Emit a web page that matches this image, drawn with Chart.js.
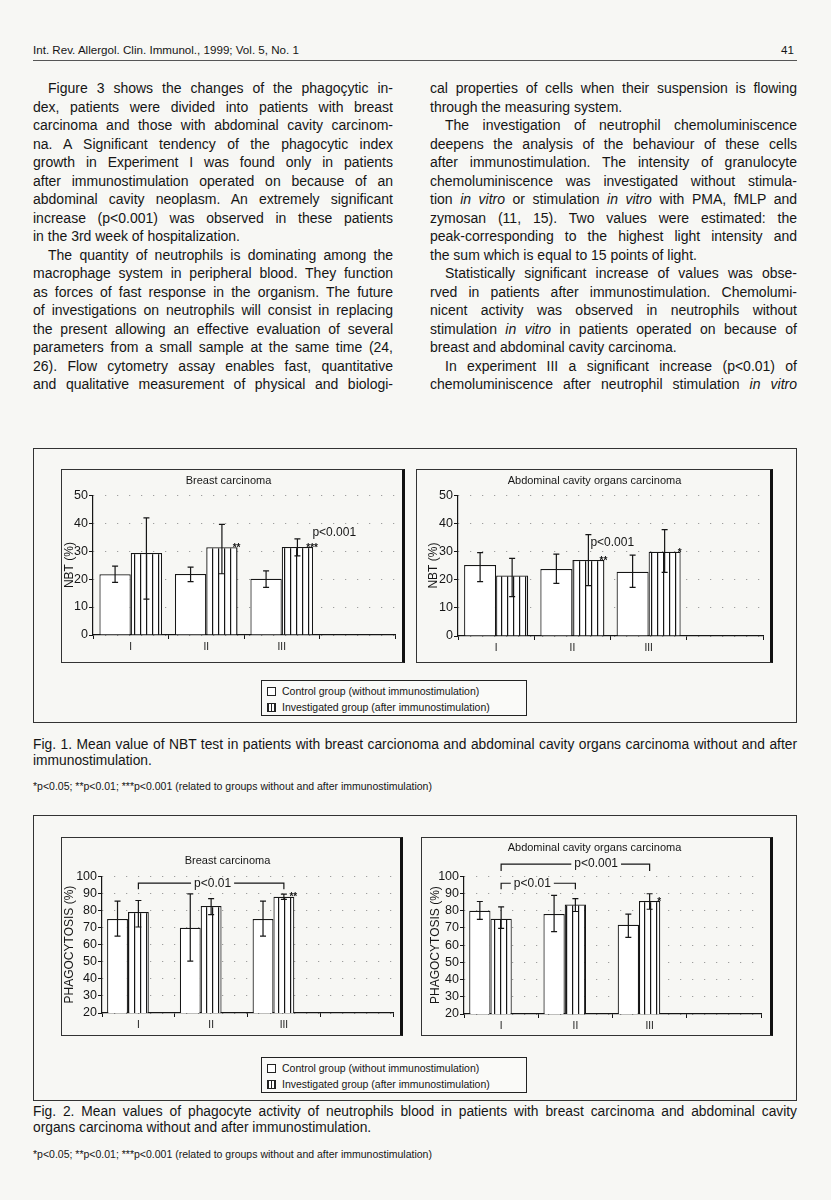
<!DOCTYPE html>
<html>
<head>
<meta charset="utf-8">
<title>Int. Rev. Allergol. Clin. Immunol. 1999 - p. 41</title>
<script src="https://cdn.jsdelivr.net/npm/chart.js@4.4.0/dist/chart.umd.min.js"></script>
<style>
  body { margin: 0; background: #f7f7f4; }
  #page { position: relative; width: 831px; height: 1200px; overflow: hidden;
          font-family: "Liberation Sans", Arial, sans-serif; color: #151515; }
  .abs { position: absolute; white-space: nowrap; }
  .ln { position: absolute; white-space: nowrap; font-size: 14px; line-height: 16px;
        text-align: justify; text-align-last: justify; }
  .ln.end { text-align-last: left; }
  .ln.cp { font-size: 13.8px; }
  .frame { position: absolute; border: 1px solid #333; box-sizing: border-box; }
  .panel { position: absolute; box-sizing: border-box; border: 1px solid #333; border-right: 3px solid #111; }
  .legend { position: absolute; box-sizing: border-box; border: 1px solid #222; font-size: 10.5px;
            line-height: 16px; padding: 2px 0 0 5px; background: #fafaf8; }
  .sw { display: inline-block; width: 7px; height: 7px; border: 1px solid #222; margin-right: 6px;
        vertical-align: -1px; background: #fff; }
  .sw.hatch { background: repeating-linear-gradient(90deg, #222 0 1px, #fff 1px 3px); }
  .cap { position: absolute; white-space: nowrap; font-size: 13.8px; line-height: 16px; }
  .note { position: absolute; white-space: nowrap; font-size: 10.5px; }
</style>
</head>
<body>
<div id="page">
  <div class="abs" style="left:33px;top:43px;font-size:11.6px;">Int. Rev. Allergol. Clin. Immunol., 1999; Vol. 5, No. 1</div>
  <div class="abs" style="left:781px;top:43px;font-size:11.6px;">41</div>
  <div class="abs" style="left:33px;top:60px;width:764px;height:1px;background:#555;"></div>

  <!-- left column -->
  <div class="ln" style="left:48px;top:80px;width:345px;">Figure 3 shows the changes of the phagoçytic in-</div>
  <div class="ln" style="left:33px;top:98.5px;width:360px;">dex, patients were divided into patients with breast</div>
  <div class="ln" style="left:33px;top:117px;width:360px;">carcinoma and those with abdominal cavity carcinom-</div>
  <div class="ln" style="left:33px;top:135.5px;width:360px;">na. A Significant tendency of the phagocytic index</div>
  <div class="ln" style="left:33px;top:154px;width:360px;">growth in Experiment I was found only in patients</div>
  <div class="ln" style="left:33px;top:172.5px;width:360px;">after immunostimulation operated on because of an</div>
  <div class="ln" style="left:33px;top:191px;width:360px;">abdominal cavity neoplasm. An extremely significant</div>
  <div class="ln" style="left:33px;top:209.5px;width:360px;">increase (p&lt;0.001) was observed in these patients</div>
  <div class="ln end" style="left:33px;top:228px;width:360px;">in the 3rd week of hospitalization.</div>
  <div class="ln" style="left:48px;top:246.5px;width:345px;">The quantity of neutrophils is dominating among the</div>
  <div class="ln" style="left:33px;top:265px;width:360px;">macrophage system in peripheral blood. They function</div>
  <div class="ln" style="left:33px;top:283.5px;width:360px;">as forces of fast response in the organism. The future</div>
  <div class="ln" style="left:33px;top:302px;width:360px;">of investigations on neutrophils will consist in replacing</div>
  <div class="ln" style="left:33px;top:320.5px;width:360px;">the present allowing an effective evaluation of several</div>
  <div class="ln" style="left:33px;top:339px;width:360px;">parameters from a small sample at the same time (24,</div>
  <div class="ln" style="left:33px;top:357.5px;width:360px;">26). Flow cytometry assay enables fast, quantitative</div>
  <div class="ln" style="left:33px;top:376px;width:360px;">and qualitative measurement of physical and biologi-</div>

  <!-- right column -->
  <div class="ln" style="left:430px;top:80px;width:367px;">cal properties of cells when their suspension is flowing</div>
  <div class="ln end" style="left:430px;top:98.5px;width:367px;">through the measuring system.</div>
  <div class="ln" style="left:445px;top:117px;width:352px;">The investigation of neutrophil chemoluminiscence</div>
  <div class="ln" style="left:430px;top:135.5px;width:367px;">deepens the analysis of the behaviour of these cells</div>
  <div class="ln" style="left:430px;top:154px;width:367px;">after immunostimulation. The intensity of granulocyte</div>
  <div class="ln" style="left:430px;top:172.5px;width:367px;">chemoluminiscence was investigated without stimula-</div>
  <div class="ln" style="left:430px;top:191px;width:367px;">tion <i>in vitro</i> or stimulation <i>in vitro</i> with PMA, fMLP and</div>
  <div class="ln" style="left:430px;top:209.5px;width:367px;">zymosan (11, 15). Two values were estimated: the</div>
  <div class="ln" style="left:430px;top:228px;width:367px;">peak-corresponding to the highest light intensity and</div>
  <div class="ln end" style="left:430px;top:246.5px;width:367px;">the sum which is equal to 15 points of light.</div>
  <div class="ln" style="left:445px;top:265px;width:352px;">Statistically significant increase of values was obse-</div>
  <div class="ln" style="left:430px;top:283.5px;width:367px;">rved in patients after immunostimulation. Chemolumi-</div>
  <div class="ln" style="left:430px;top:302px;width:367px;">nicent activity was observed in neutrophils without</div>
  <div class="ln" style="left:430px;top:320.5px;width:367px;">stimulation <i>in vitro</i> in patients operated on because of</div>
  <div class="ln end" style="left:430px;top:339px;width:367px;">breast and abdominal cavity carcinoma.</div>
  <div class="ln" style="left:445px;top:357.5px;width:352px;">In experiment III a significant increase (p&lt;0.01) of</div>
  <div class="ln" style="left:430px;top:376px;width:367px;">chemoluminiscence after neutrophil stimulation <i>in vitro</i></div>

  <!-- Fig. 1 -->
  <div class="frame" style="left:33px;top:448px;width:764px;height:275px;"></div>
  <div class="panel" style="left:61px;top:469px;width:344px;height:194px;"><canvas id="nbtBreast"></canvas></div>
  <div class="panel" style="left:416px;top:469px;width:357px;height:194px;"><canvas id="nbtAbd"></canvas></div>
  <div class="legend" style="left:261px;top:680px;width:266px;height:36px;">
    <div><span class="sw"></span>Control group (without immunostimulation)</div>
    <div><span class="sw hatch"></span>Investigated group (after immunostimulation)</div>
  </div>
  <div class="ln cp" style="left:33px;top:737px;width:764px;">Fig. 1. Mean value of NBT test in patients with breast carcionoma and abdominal cavity organs carcinoma without and after</div>
  <div class="cap" style="left:33px;top:753px;">immunostimulation.</div>
  <div class="note" style="left:33px;top:780px;">*p&lt;0.05; **p&lt;0.01; ***p&lt;0.001 (related to groups without and after immunostimulation)</div>

  <!-- Fig. 2 -->
  <div class="frame" style="left:33px;top:815px;width:764px;height:286px;"></div>
  <div class="panel" style="left:61px;top:837px;width:342px;height:199px;"><canvas id="phagoBreast"></canvas></div>
  <div class="panel" style="left:421px;top:837px;width:352px;height:199px;"><canvas id="phagoAbd"></canvas></div>
  <div class="legend" style="left:261px;top:1057px;width:266px;height:36px;">
    <div><span class="sw"></span>Control group (without immunostimulation)</div>
    <div><span class="sw hatch"></span>Investigated group (after immunostimulation)</div>
  </div>
  <div class="ln cp" style="left:33px;top:1104px;width:764px;">Fig. 2. Mean values of phagocyte activity of neutrophils blood in patients with breast carcinoma and abdominal cavity</div>
  <div class="cap" style="left:33px;top:1120px;">organs carcinoma without and after immunostimulation.</div>
  <div class="note" style="left:33px;top:1148px;">*p&lt;0.05; **p&lt;0.01; ***p&lt;0.001 (related to groups without and after immunostimulation)</div>
</div>

<script>
// groups (weeks of hospitalization), last slot is empty on the axis
const groups = ['I', 'II', 'III', ''];

// Fig. 1 - NBT (%)
const nbtBreastControl = [21.7, 21.8, 20.1];
const nbtBreastControlLow = [18.8, 19.1, 17.0];
const nbtBreastControlHigh = [24.6, 24.3, 22.9];
const nbtBreastTreated = [29.3, 31.4, 31.5];
const nbtBreastTreatedLow = [12.8, 21.9, 28.3];
const nbtBreastTreatedHigh = [41.9, 39.6, 34.4];
const nbtBreastStars = ['', '**', '***'];

const nbtAbdControl = [25.2, 23.8, 22.8];
const nbtAbdControlLow = [19.3, 18.7, 17.3];
const nbtAbdControlHigh = [29.6, 29.1, 28.7];
const nbtAbdTreated = [21.5, 27.0, 29.9];
const nbtAbdTreatedLow = [14.0, 17.9, 22.6];
const nbtAbdTreatedHigh = [27.6, 36.0, 37.8];
const nbtAbdStars = ['', '**', '*'];

// Fig. 2 - phagocytosis (%)
const phagoBreastControl = [74.9, 69.8, 75.0];
const phagoBreastControlLow = [65.0, 50.3, 65.0];
const phagoBreastControlHigh = [85.4, 89.7, 85.4];
const phagoBreastTreated = [79.0, 82.6, 88.0];
const phagoBreastTreatedLow = [70.3, 77.5, 86.5];
const phagoBreastTreatedHigh = [85.8, 86.9, 89.5];
const phagoBreastStars = ['', '', '**'];

const phagoAbdControl = [79.9, 78.0, 71.8];
const phagoAbdControlLow = [74.9, 67.8, 64.5];
const phagoAbdControlHigh = [85.3, 88.9, 78.0];
const phagoAbdTreated = [75.3, 83.5, 85.6];
const phagoAbdTreatedLow = [69.7, 79.5, 80.8];
const phagoAbdTreatedHigh = [82.2, 87.0, 89.8];
const phagoAbdStars = ['', '', '*'];

const ink = '#161616';
const fontFamily = '"Liberation Sans", Arial, sans-serif';

// shrink a text line a little if it does not fit its column
document.querySelectorAll('.ln').forEach(el => {
  let size = parseFloat(getComputedStyle(el).fontSize);
  while (el.scrollWidth > el.clientWidth + 0.5 && size > 10) {
    size -= 0.2;
    el.style.fontSize = size + 'px';
  }
});

// vertical hatching for the investigated group
function hatchPattern() {
  const c = document.createElement('canvas');
  c.width = 6; c.height = 6;
  const g = c.getContext('2d');
  g.fillStyle = '#fff';
  g.fillRect(0, 0, 6, 6);
  g.fillStyle = ink;
  g.fillRect(0, 0, 1.2, 6);
  return g.createPattern(c, 'repeat');
}

// error bars, stars, p-value notes and brackets
const marksPlugin = {
  id: 'marks',
  afterDatasetsDraw(chart, args, opts) {
    const ctx = chart.ctx;
    const y = chart.scales.y;
    ctx.save();
    ctx.strokeStyle = ink;
    ctx.fillStyle = ink;
    ctx.lineWidth = 1.2;
    chart.data.datasets.forEach((ds, di) => {
      if (!ds.low) return;
      const meta = chart.getDatasetMeta(di);
      meta.data.forEach((bar, i) => {
        if (ds.low[i] == null) return;
        const top = y.getPixelForValue(ds.high[i]);
        const bot = y.getPixelForValue(ds.low[i]);
        ctx.beginPath();
        ctx.moveTo(bar.x, top); ctx.lineTo(bar.x, bot);
        ctx.moveTo(bar.x - 3, top); ctx.lineTo(bar.x + 3, top);
        ctx.moveTo(bar.x - 3, bot); ctx.lineTo(bar.x + 3, bot);
        ctx.stroke();
        if (ds.stars && ds.stars[i]) {
          ctx.font = 'bold 10px ' + fontFamily;
          ctx.textAlign = 'center';
          ctx.textBaseline = 'middle';
          ctx.fillText(ds.stars[i], bar.x + bar.width / 2 - 1, bar.y + 1);
        }
      });
    });
    const treated = chart.getDatasetMeta(1).data;
    ctx.font = '12px ' + fontFamily;
    ctx.textBaseline = 'middle';
    (opts.notes || []).forEach(n => {
      ctx.textAlign = 'left';
      ctx.fillText(n.text, treated[n.index].x + n.dx, y.getPixelForValue(n.value));
    });
    (opts.brackets || []).forEach(b => {
      const x1 = treated[b.from].x, x2 = treated[b.to].x;
      const yl = y.getPixelForValue(b.value);
      const ye = y.getPixelForValue(b.value - b.drop);
      const tw = ctx.measureText(b.text).width;
      const tx = x1 + (x2 - x1) * b.at;
      ctx.beginPath();
      ctx.moveTo(x1, ye); ctx.lineTo(x1, yl); ctx.lineTo(tx - tw / 2 - 3, yl);
      ctx.moveTo(tx + tw / 2 + 3, yl); ctx.lineTo(x2, yl); ctx.lineTo(x2, ye);
      ctx.stroke();
      ctx.textAlign = 'center';
      ctx.fillText(b.text, tx, yl);
    });
    ctx.restore();
  }
};

function makeChart(id, c) {
  const datasets = [
    { label: 'Control group (without immunostimulation)', data: c.control, low: c.controlLow, high: c.controlHigh,
      backgroundColor: '#fff', borderColor: ink, borderWidth: 1.2 },
    { label: 'Investigated group (after immunostimulation)', data: c.treated, low: c.treatedLow, high: c.treatedHigh,
      stars: c.stars, backgroundColor: hatchPattern(), borderColor: ink, borderWidth: 1.2 }
  ];
  // Fig. 2 keeps an empty third slot in every group, as in the original plot
  if (c.spareSlot) datasets.push({ label: '', data: [] });
  return new Chart(document.getElementById(id), {
    type: 'bar',
    data: { labels: groups, datasets },
    options: {
      responsive: true,
      maintainAspectRatio: false,
      animation: false,
      devicePixelRatio: 1,
      layout: { padding: { left: c.padLeft, right: c.padRight, top: 0, bottom: 0 } },
      datasets: { bar: { barPercentage: 1, categoryPercentage: c.catPct } },
      plugins: {
        legend: { display: false },
        tooltip: { enabled: false },
        title: { display: true, text: c.title, color: ink,
                 font: { family: fontFamily, size: 11, weight: 'normal' }, padding: c.titlePad },
        marks: { notes: c.notes, brackets: c.brackets }
      },
      scales: {
        x: {
          grid: { offset: true, drawOnChartArea: false, color: ink, tickLength: 4 },
          border: { color: ink, width: 1.2 },
          ticks: { color: ink, padding: 2, font: { family: fontFamily, size: 10 } },
          afterFit: s => { s.height = c.xHeight; }
        },
        y: {
          min: c.yMin, max: c.yMax,
          ticks: { stepSize: 10, autoSkip: false, color: ink, padding: 1,
                   font: { family: fontFamily, size: 12.5 } },
          grid: { color: '#8a8a8a', tickColor: ink, tickLength: 4 },
          border: { color: ink, width: 1.2, dash: [1, 11] },
          title: { display: true, text: c.yTitle, color: ink, padding: 0,
                   font: { family: fontFamily, size: 12 } },
          afterFit: s => { s.width = c.yWidth; }
        }
      }
    },
    plugins: [marksPlugin]
  });
}

makeChart('nbtBreast', {
  title: 'Breast carcinoma', yTitle: 'NBT (%)', yMin: 0, yMax: 50,
  control: nbtBreastControl, controlLow: nbtBreastControlLow, controlHigh: nbtBreastControlHigh,
  treated: nbtBreastTreated, treatedLow: nbtBreastTreatedLow, treatedHigh: nbtBreastTreatedHigh,
  stars: nbtBreastStars,
  notes: [{ index: 2, value: 36.5, dx: 15, text: 'p<0.001' }],
  brackets: [],
  padLeft: 0, yWidth: 31, padRight: 7, xHeight: 27, catPct: 0.83, titlePad: { top: 4, bottom: 8 }
});

makeChart('nbtAbd', {
  title: 'Abdominal cavity organs carcinoma', yTitle: 'NBT (%)', yMin: 0, yMax: 50,
  control: nbtAbdControl, controlLow: nbtAbdControlLow, controlHigh: nbtAbdControlHigh,
  treated: nbtAbdTreated, treatedLow: nbtAbdTreatedLow, treatedHigh: nbtAbdTreatedHigh,
  stars: nbtAbdStars,
  notes: [{ index: 1, value: 33, dx: 2, text: 'p<0.001' }],
  brackets: [],
  padLeft: 9, yWidth: 32, padRight: 7, xHeight: 26, catPct: 0.84, titlePad: { top: 4, bottom: 8 }
});

makeChart('phagoBreast', {
  title: 'Breast carcinoma', yTitle: 'PHAGOCYTOSIS (%)', yMin: 20, yMax: 100,
  control: phagoBreastControl, controlLow: phagoBreastControlLow, controlHigh: phagoBreastControlHigh,
  treated: phagoBreastTreated, treatedLow: phagoBreastTreatedLow, treatedHigh: phagoBreastTreatedHigh,
  stars: phagoBreastStars, spareSlot: true,
  notes: [],
  brackets: [{ from: 0, to: 2, value: 95.9, drop: 3.5, at: 0.51, text: 'p<0.01' }],
  padLeft: 0, yWidth: 40, padRight: 7, xHeight: 22, catPct: 0.86, titlePad: { top: 16, bottom: 9 }
});

makeChart('phagoAbd', {
  title: 'Abdominal cavity organs carcinoma', yTitle: 'PHAGOCYTOSIS (%)', yMin: 20, yMax: 100,
  control: phagoAbdControl, controlLow: phagoAbdControlLow, controlHigh: phagoAbdControlHigh,
  treated: phagoAbdTreated, treatedLow: phagoAbdTreatedLow, treatedHigh: phagoAbdTreatedHigh,
  stars: phagoAbdStars, spareSlot: true,
  notes: [],
  brackets: [
    { from: 0, to: 2, value: 107, drop: 4, at: 0.64, text: 'p<0.001' },
    { from: 0, to: 1, value: 95.9, drop: 3.5, at: 0.42, text: 'p<0.01' }
  ],
  padLeft: 6, yWidth: 36, padRight: 9, xHeight: 21, catPct: 0.86, titlePad: { top: 3, bottom: 22 }
});
</script>
</body>
</html>
